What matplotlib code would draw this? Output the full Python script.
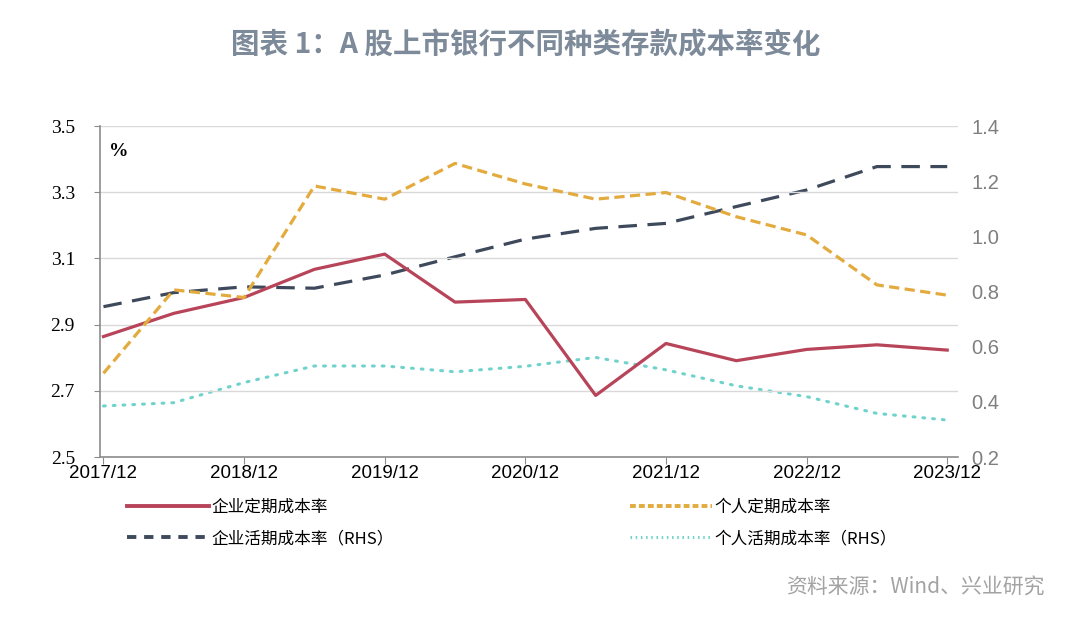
from matplotlib import pyplot as plt
from matplotlib.lines import Line2D

plt.rcParams['font.family'] = ['Noto Sans CJK SC', 'DejaVu Sans']

periods = ["2017/12", "2018/06", "2018/12", "2019/06", "2019/12", "2020/06", "2020/12",
           "2021/06", "2021/12", "2022/06", "2022/12", "2023/06", "2023/12"]
tick_labels = ["2017/12", "2018/12", "2019/12", "2020/12", "2021/12", "2022/12", "2023/12"]

corp_time = [2.864, 2.934, 2.982, 3.067, 3.113, 2.968, 2.976, 2.686, 2.843, 2.791, 2.825, 2.839, 2.823]
pers_time = [2.753, 3.005, 2.982, 3.319, 3.279, 3.387, 3.325, 3.279, 3.299, 3.226, 3.171, 3.020, 2.989]
corp_demand = [0.745, 0.796, 0.817, 0.812, 0.860, 0.926, 0.990, 1.029, 1.047, 1.108, 1.168, 1.253, 1.253]
pers_demand = [0.385, 0.397, 0.470, 0.530, 0.530, 0.509, 0.529, 0.561, 0.516, 0.458, 0.419, 0.358, 0.334]

labels = ["企业定期成本率", "个人定期成本率", "企业活期成本率（RHS）", "个人活期成本率（RHS）"]
colors = ["#B8445A", "#E3AB3E", "#3E4A5C", "#6FD3CC"]

fig = plt.figure(figsize=(10.9, 6.19), dpi=100)
ax = fig.add_axes([0.0917, 0.2617, 0.787, 0.5347])
ax2 = ax.twinx()

x = list(range(len(periods)))
ax.plot(x, corp_time, color=colors[0], lw=2.3, zorder=5)
ax.plot(x, pers_time, color=colors[1], lw=2.3, dashes=(3.2, 1.7), zorder=5)
ax2.plot(x, corp_demand, color=colors[2], lw=2.3, dashes=(5.8, 3.3))
ax2.plot(x, pers_demand, color=colors[3], lw=2.2, dashes=(0.6, 2.6), dash_capstyle="round")

ax.set_zorder(ax2.get_zorder() + 1)
ax.patch.set_visible(False)

ax.set_xlim(-0.05, 12.15)
ax.set_ylim(2.5, 3.5)
ax2.set_ylim(0.2, 1.4)
ax.set_yticks([2.5, 2.7, 2.9, 3.1, 3.3, 3.5])
ax.set_yticklabels(["2.5", "2.7", "2.9", "3.1", "3.3", "3.5"], family="Liberation Serif", fontsize=14)
ax2.set_yticks([0.2, 0.4, 0.6, 0.8, 1.0, 1.2, 1.4])
ax2.set_yticklabels([f"{v:.1f}" for v in [0.2, 0.4, 0.6, 0.8, 1.0, 1.2, 1.4]], family="Liberation Sans",
                    fontsize=14.5, color="#7F7F7F")
ax.set_xticks(x[::2])
ax.set_xticklabels(tick_labels, family=["Liberation Sans", "DejaVu Sans"], fontsize=13.5)

ax.grid(axis="y", color="#D9D9D9", lw=1)
ax.set_axisbelow(True)
for a in (ax, ax2):
    a.spines["top"].set_visible(False)
    a.spines["right"].set_visible(False)
ax2.spines["left"].set_visible(False)
ax2.spines["bottom"].set_visible(False)
ax.spines["left"].set_color("#8C8C8C")
ax.spines["bottom"].set_color("#8C8C8C")
ax.spines["left"].set_linewidth(1.2)
ax.spines["bottom"].set_linewidth(1.2)
ax.tick_params(axis="y", length=4, color="#8C8C8C", pad=14)
ax.tick_params(axis="x", length=5, color="#8C8C8C", pad=1)
ax2.tick_params(axis="y", length=0, pad=10)

ax.text(0.01, 0.95, "%", transform=ax.transAxes, fontsize=14, family="Liberation Serif",
        fontweight="bold", va="top", ha="left")

handles = [
    Line2D([0], [0], color=colors[0], lw=2.8),
    Line2D([0], [0], color=colors[2], lw=2.8, dashes=(2.4, 2.0)),
    Line2D([0], [0], color=colors[1], lw=2.8, dashes=(1.5, 0.8)),
    Line2D([0], [0], color=colors[3], lw=2.2, dashes=(0.5, 1.2)),
]
fig.legend(handles, [labels[0], labels[2], labels[1], labels[3]], loc="upper left",
           bbox_to_anchor=(0.103, 0.218), ncol=2, frameon=False, fontsize=12,
           handlelength=4.9, handletextpad=0.15, columnspacing=14.2, labelspacing=0.85)

fig.text(0.482, 0.927, "图表 1：A 股上市银行不同种类存款成本率变化", ha="center", va="center",
         fontsize=20.5, fontweight="bold", color="#7D8A99")
fig.text(0.958, 0.052, "资料来源：Wind、兴业研究", ha="right", va="center", fontsize=15,
         color="#A3A3A3")

fig.savefig("out.png", dpi=100)
